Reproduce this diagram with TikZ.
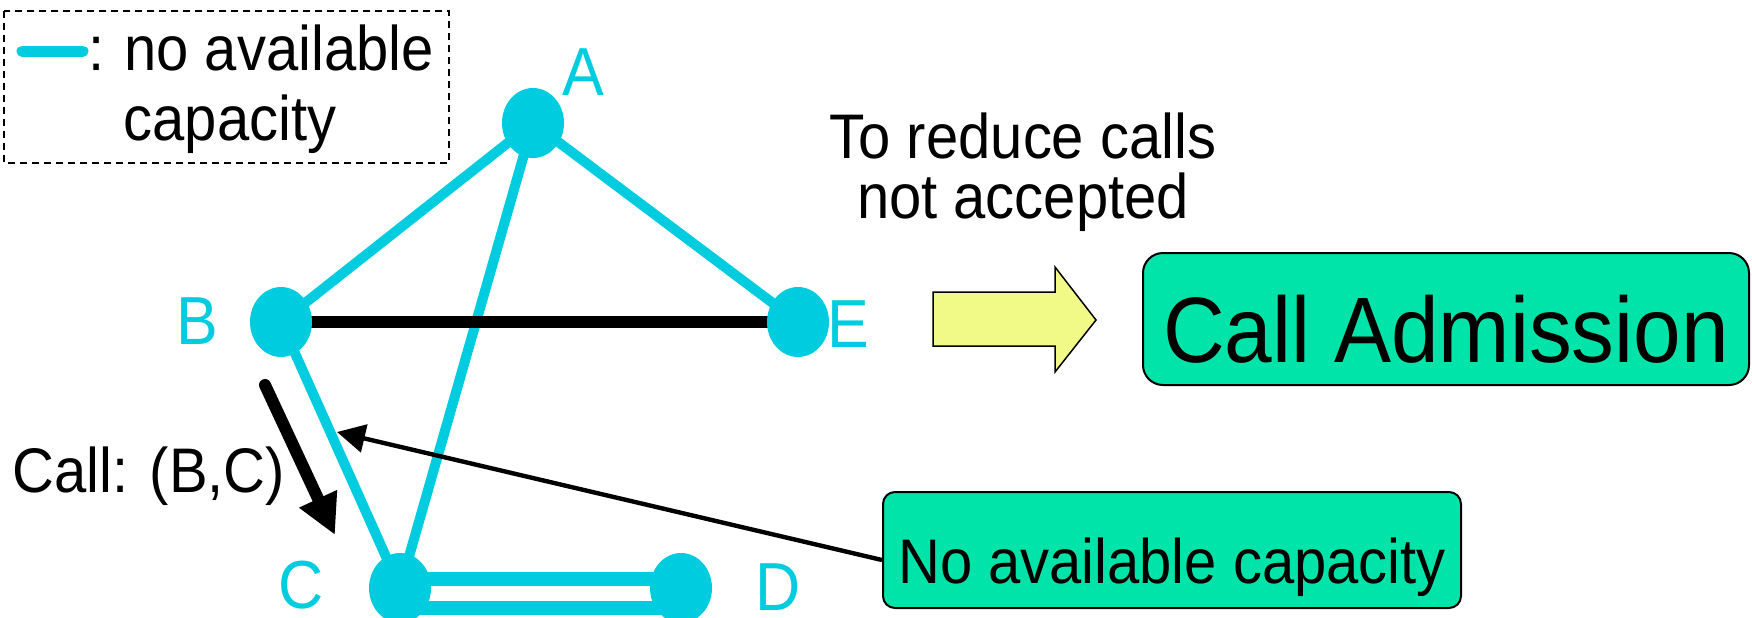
\documentclass[tikz,border=0pt]{standalone}
\usepackage{fontspec}
\setmainfont{Liberation Sans}[FakeStretch=0.92]
\usetikzlibrary{shapes.geometric,arrows.meta,backgrounds}
\definecolor{linkcyan}{RGB}{0,204,224}
\definecolor{boxgreen}{RGB}{0,228,170}
\definecolor{arrowyellow}{RGB}{242,250,135}

\begin{document}
\begin{tikzpicture}[x=0.5pt,y=-0.5pt,
  router/.style={ellipse, fill=linkcyan, minimum width=31pt, minimum height=35pt, inner sep=0pt},
  nodelabel/.style={text=linkcyan, font=\fontsize{34}{40}\selectfont, inner sep=0pt},
  busy/.style={draw=linkcyan, line width=5pt},
  txt/.style={font=\fontsize{31.5}{38}\selectfont, inner sep=0pt},
  greenbox/.style={draw, line width=1pt, fill=boxgreen, inner sep=0pt, text depth=0pt}
]
\useasboundingbox (0,0) rectangle (1752,617);

% legend
\draw[dash pattern=on 3.5pt off 2.5pt, line width=0.75pt] (4,11) rectangle (449,163);
\coordinate (l1) at (22,51);
\coordinate (l2) at (83,51);
\draw[linkcyan, line width=5.5pt, line cap=round] (l1) -- (l2);
\node[txt, anchor=base west] (colon) at (88,70) {:};
\node[txt, anchor=base west] (lg1) at (124,70) {no available};
\node[txt, anchor=base] (lg2) at (230,140) {capacity};

% network nodes
\node[router] (A) at (533,123) {};
\node[router] (B) at (281,322) {};
\node[router] (E) at (798,322) {};
\node[router] (C) at (400,588) {};
\node[router] (D) at (681,588) {};

% links
\begin{scope}[on background layer]
  \draw[busy] (A.center) -- (B.center);
  \draw[busy] (A.center) -- (E.center);
  \draw[busy] (A.center) -- (C.center);
  \draw[busy] (B.center) -- (C.center);
  \draw[line width=6pt] (B.center) -- (E.center);
  \draw[linkcyan, line width=7pt, double=white, double distance=7.5pt]
    ([yshift=-2.5pt]C.center) -- ([yshift=-2.5pt]D.center);
\end{scope}

% node names
\node[nodelabel] (Alab) at (583,72) {A};
\node[nodelabel] (Blab) at (197,321) {B};
\node[nodelabel] (Clab) at (301,585) {C};
\node[nodelabel] (Dlab) at (778,587) {D};
\node[nodelabel] (Elab) at (848,324) {E};

% incoming call
\coordinate (cs) at (265,385);
\coordinate (ce) at (335,535);
\draw[line width=6pt, line cap=round, -{Triangle[length=20pt,width=19.5pt]}] (cs) -- (ce);
\node[txt, anchor=base west] (call) at (12,492) {Call: (B,C)};

% conclusion
\node[txt, anchor=base] (why1) at (1023,158) {To reduce calls};
\node[txt, anchor=base] (why2) at (1023,218) {not accepted};
\draw[fill=arrowyellow, line width=0.75pt, line join=miter]
  (933,292) -- (1055,292) -- (1055,267) -- (1096,320) -- (1055,372) -- (1055,346) -- (933,346) -- cycle;
\node[greenbox, rounded corners=10pt, minimum width=303pt, minimum height=66pt,
      text height=43pt, font=\fontsize{46.5}{56}\selectfont] (cac) at (1446,319) {Call Admission};

% blocked link annotation
\node[greenbox, txt, rounded corners=6pt, minimum width=289pt, minimum height=58pt,
      text height=33pt] (nac) at (1172,550) {No available capacity};
\coordinate (hit) at (337,432);
\draw[line width=2.2pt, -{Triangle[length=14pt,width=14pt]}] ([yshift=-5pt]nac.west) -- (hit);
\end{tikzpicture}
\end{document}
